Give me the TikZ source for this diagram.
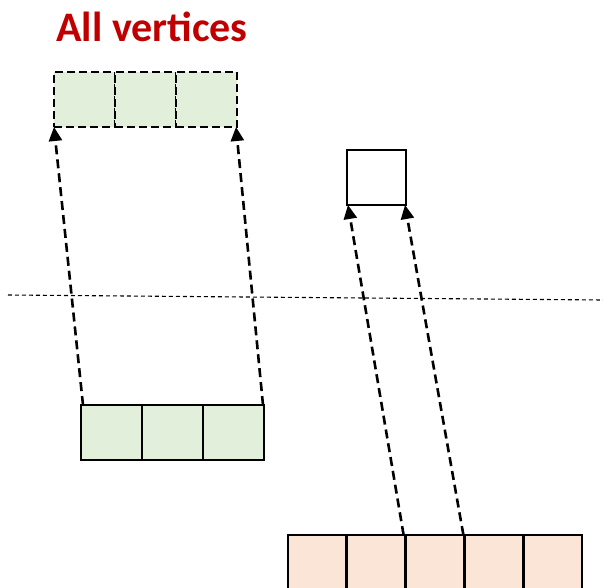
\documentclass[tikz,border=0pt]{standalone}
\usepackage{fontspec}
\setmainfont{Carlito}
\usetikzlibrary{arrows.meta}
\definecolor{titlered}{HTML}{C00000}
\definecolor{cellgreen}{HTML}{E2EFDA}
\definecolor{cellorange}{HTML}{FBE5D6}

\begin{document}
\begin{tikzpicture}[x=1pt,y=-1pt,
    cell/.style={draw,line width=2.8pt,inner sep=0pt,outer sep=0pt,
                 minimum width=#1,minimum height=55pt},
    cell/.default=61pt,
    ghost/.style={dash pattern=on 8pt off 4pt},
    link/.style={-{Triangle[length=14pt,width=13pt]},line width=2.6pt,
                 dash pattern=on 9pt off 5pt}]
  \useasboundingbox (0,0) rectangle (603,588);
  \node[titlered,font=\bfseries\fontsize{42}{48}\selectfont,anchor=base] (title) at (152,42) {All vertices};
  % dashed copy of the vertex block on top
  \foreach \i in {1,2,3} {
    \node[cell,ghost,fill=cellgreen] (top\i) at (23.5+61*\i,99.5) {};
  }
  % single cell
  \node[cell=59pt] (one) at (376.5,177.5) {};
  % separator
  \coordinate (cutl) at (8,295);
  \coordinate (cutr) at (603,300);
  \draw[line width=1.1pt,dash pattern=on 4pt off 3pt] (cutl) -- (cutr);
  % vertex block
  \foreach \i in {1,2,3} {
    \node[cell,fill=cellgreen] (vtx\i) at (50.5+61*\i,432.5) {};
  }
  % edge block
  \foreach \i in {1,...,5} {
    \node[cell=58.8pt,fill=cellorange] (edge\i) at (258.6+58.8*\i,562.5) {};
  }
  \draw[link] ([xshift=2pt]vtx1.north west) -- (top1.south west);
  \draw[link] ([xshift=-1pt]vtx3.north east) -- ([xshift=-1pt]top3.south east);
  \draw[link] ([xshift=-2pt]edge3.north west) -- ([xshift=1pt]one.south west);
  \draw[link] ([xshift=-1pt]edge3.north east) -- ([xshift=-1pt]one.south east);
\end{tikzpicture}
\end{document}
